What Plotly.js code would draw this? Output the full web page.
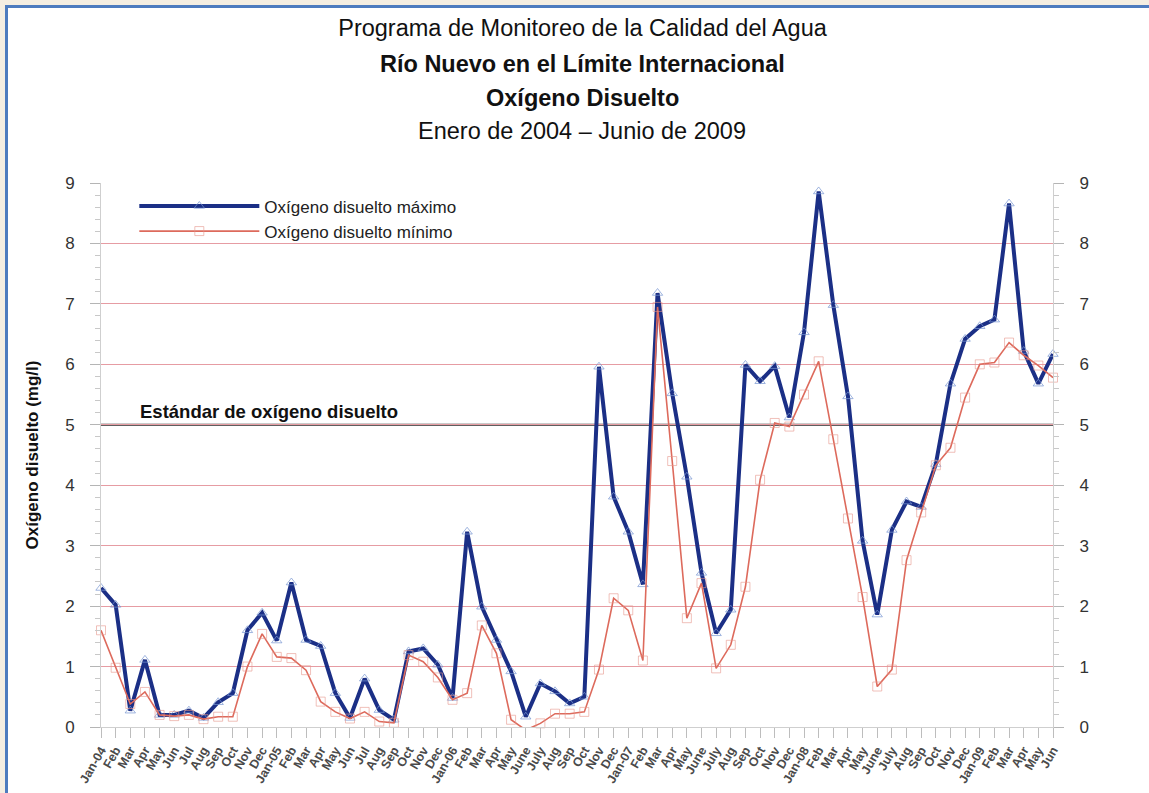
<!DOCTYPE html>
<html>
<head>
<meta charset="utf-8">
<script src="https://cdn.plot.ly/plotly-3.0.1.min.js"></script>
<style>
  html, body { margin: 0; padding: 0; background: #f4eee2; width: 1149px; height: 793px; overflow: hidden; }
  #frame { position: absolute; left: 5px; top: 5px; width: 1144px; height: 788px;
           border-left: 3px solid #4d7cbf; border-top: 3px solid #4d7cbf; background: #ffffff; }
  #chart { width: 1141px; height: 785px; }
</style>
</head>
<body>
<div id="frame"><div id="chart"></div></div>
<script>
const monthLabels = ["Jan-04","Feb","Mar","Apr","May","Jun","Jul","Aug","Sep","Oct","Nov","Dec",
  "Jan-05","Feb","Mar","Apr","May","Jun","Jul","Aug","Sep","Oct","Nov","Dec",
  "Jan-06","Feb","Mar","Apr","May","June","July","Aug","Sep","Oct","Nov","Dec",
  "Jan-07","Feb","Mar","Apr","May","June","July","Aug","Sep","Oct","Nov","Dec",
  "Jan-08","Feb","Mar","Apr","May","June","July","Aug","Sep","Oct","Nov","Dec",
  "Jan-09","Feb","Mar","Apr","May","Jun"];

const maxDO = [2.30, 2.02, 0.27, 1.11, 0.20, 0.20, 0.27, 0.15, 0.41, 0.56,
  1.60, 1.89, 1.43, 2.39, 1.44, 1.34, 0.56, 0.15, 0.80, 0.28,
  0.12, 1.25, 1.30, 1.03, 0.48, 3.23, 1.99, 1.44, 0.92, 0.17,
  0.72, 0.59, 0.39, 0.50, 5.96, 3.81, 3.23, 2.36, 7.18, 5.52,
  4.14, 2.55, 1.55, 1.94, 5.99, 5.72, 5.97, 5.12, 6.53, 8.86,
  6.98, 5.47, 3.08, 1.86, 3.26, 3.73, 3.64, 4.35, 5.68, 6.42,
  6.63, 6.74, 8.66, 6.22, 5.68, 6.17];

const minDO = [1.60, 0.98, 0.38, 0.58, 0.20, 0.18, 0.20, 0.13, 0.17, 0.17,
  1.00, 1.54, 1.16, 1.14, 0.94, 0.42, 0.25, 0.14, 0.25, 0.09,
  0.07, 1.19, 1.08, 0.82, 0.45, 0.56, 1.68, 1.22, 0.12, -0.05,
  0.06, 0.22, 0.22, 0.25, 0.95, 2.13, 1.93, 1.10, 6.95, 4.40,
  1.80, 2.38, 0.97, 1.36, 2.32, 4.09, 5.03, 4.97, 5.50, 6.05,
  4.76, 3.45, 2.15, 0.67, 0.95, 2.76, 3.55, 4.33, 4.62, 5.45,
  6.00, 6.03, 6.36, 6.15, 5.98, 5.78];

const standardDO = 5;
const seriesNames = ["Oxígeno disuelto máximo", "Oxígeno disuelto mínimo"];
const titleLines = ["Programa de Monitoreo de la Calidad del Agua",
  "Río Nuevo en el Límite Internacional", "Oxígeno Disuelto",
  "Enero de 2004 – Junio de 2009"];

const xIdx = monthLabels.map((_, i) => i);
const FONT = "'Liberation Sans', Arial, sans-serif";

const traces = [
  {
    x: xIdx, y: maxDO, name: seriesNames[0], type: "scatter", mode: "lines+markers",
    line: { color: "#1b2f86", width: 4 },
    marker: { symbol: "triangle-up-open", size: 9, color: "rgba(120,150,210,0.7)", line: { width: 1 } },
    cliponaxis: false
  },
  {
    x: xIdx, y: minDO, name: seriesNames[1], type: "scatter", mode: "lines+markers",
    line: { color: "#dd6a5c", width: 1.6 },
    marker: { symbol: "square-open", size: 9, color: "rgba(230,150,140,0.6)", line: { width: 1 } },
    cliponaxis: false, yaxis: "y2"
  }
];

const yCommon = {
  range: [0, 9], dtick: 1, tick0: 0, fixedrange: true,
  ticks: "outside", ticklen: 10, tickcolor: "#b5b5b5", tickwidth: 1,
  showline: true, linecolor: "#cfcfcf", linewidth: 1,
  tickfont: { family: FONT, size: 17, color: "#333" },
  ticklabelstandoff: 12,
  minor: { dtick: 0.2, ticks: "outside", ticklen: 5, tickcolor: "#c8c8c8", showgrid: false },
  zeroline: false
};

const plotTopPage = 183, plotH = 544;
function paperY(pageY) { return 1 + (plotTopPage - pageY) / plotH; }

const layout = {
  width: 1141, height: 785,
  paper_bgcolor: "#ffffff", plot_bgcolor: "#ffffff",
  margin: { l: 93, r: 96, t: 175, b: 66 },
  showlegend: true,
  title: {
    text: titleLines[0],
    font: { family: FONT, size: 23.5, color: "#111" },
    x: 0.5 + 4 / 1141, xanchor: "center", xref: "container",
    y: 1 - 20 / 785, yanchor: "middle", yref: "container"
  },
  xaxis: {
    range: [0, 65], fixedrange: true,
    tickmode: "array", tickvals: xIdx, ticktext: monthLabels, tickangle: -60,
    ticks: "outside", ticklen: 10, tickcolor: "#bdbdbd",
    showline: true, linecolor: "#cfcfcf",
    showgrid: false, zeroline: false,
    tickfont: { family: FONT, size: 12.5, color: "#4a4a4a", weight: "bold" }
  },
  yaxis: Object.assign({}, yCommon, {
    side: "left", showgrid: true, gridcolor: "#e69ca3", gridwidth: 1,
    title: { text: "<b>Oxígeno disuelto (mg/l)</b>", font: { family: FONT, size: 17, color: "#111" }, standoff: 22 }
  }),
  yaxis2: Object.assign({}, yCommon, {
    side: "right", overlaying: "y", showgrid: false, matches: "y"
  }),
  legend: {
    x: 0.035, xanchor: "left", y: 0.99, yanchor: "top",
    bgcolor: "rgba(255,255,255,0)", borderwidth: 0,
    font: { family: FONT, size: 17, color: "#222" },
    itemwidth: 120, tracegroupgap: 0
  },
  shapes: [
    { type: "line", xref: "paper", x0: 0, x1: 1, yref: "y", y0: standardDO, y1: standardDO,
      line: { color: "#2a2a2a", width: 2 }, layer: "below" }
  ],
  annotations: [
    { text: "<b>" + titleLines[1] + "</b>", xref: "paper", x: 0.5, xanchor: "center", xshift: 5,
      yref: "paper", y: paperY(64), yanchor: "middle", showarrow: false,
      font: { family: FONT, size: 23.5, color: "#111" } },
    { text: "<b>" + titleLines[2] + "</b>", xref: "paper", x: 0.5, xanchor: "center", xshift: 5,
      yref: "paper", y: paperY(98), yanchor: "middle", showarrow: false,
      font: { family: FONT, size: 23.5, color: "#111" } },
    { text: titleLines[3], xref: "paper", x: 0.5, xanchor: "center", xshift: 5,
      yref: "paper", y: paperY(131), yanchor: "middle", showarrow: false,
      font: { family: FONT, size: 23.5, color: "#111" } },
    { text: "<b>Estándar de oxígeno disuelto</b>", xref: "paper", x: 0.039, xanchor: "left",
      yref: "y", y: standardDO, yanchor: "bottom", yshift: 1, showarrow: false,
      font: { family: FONT, size: 18.5, color: "#111" } }
  ]
};

Plotly.newPlot("chart", traces, layout, { displayModeBar: false, staticPlot: true });
</script>
</body>
</html>
